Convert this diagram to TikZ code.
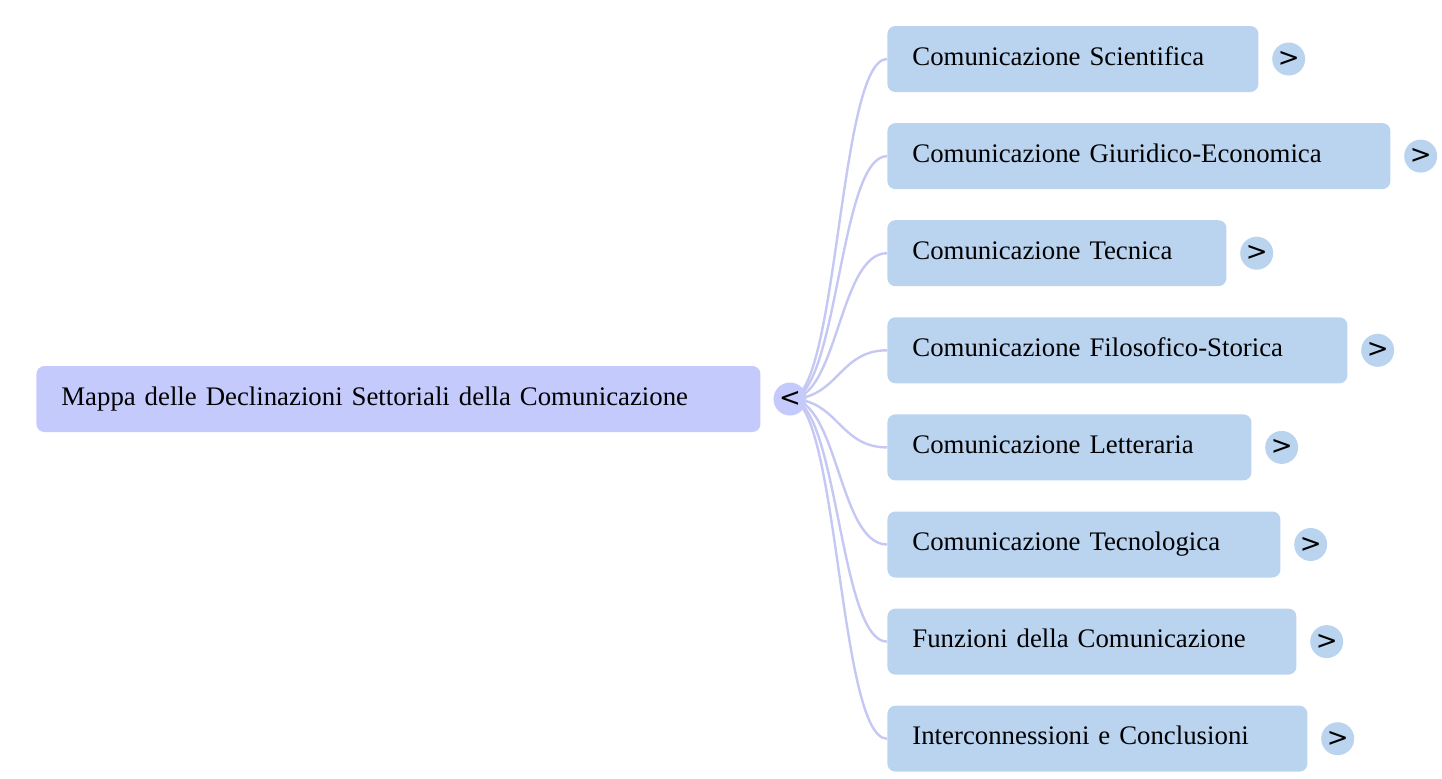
\documentclass[tikz,border=0pt]{standalone}
\usepackage{fontspec}
\setmainfont{Liberation Serif}
\newfontfamily\togglefont{DejaVu Sans}
\usetikzlibrary{positioning}

\definecolor{rootblue}{HTML}{C5CAFC}
\definecolor{leafblue}{HTML}{BAD4F0}
\definecolor{linkblue}{HTML}{C4C8F2}

\tikzset{
  box/.style={rounded corners=4pt, minimum height=33pt, inner xsep=12.5pt, text height=10pt, text depth=4pt, align=left, anchor=west, font=\fontsize{13.4}{16}\selectfont},
  toggle/.style={circle, inner sep=0pt, minimum size=16.5pt, font=\togglefont\fontsize{13}{13}\selectfont},
  link/.style={linkblue, line width=1.2pt},
}

\begin{document}
\begin{tikzpicture}[x=0.5pt, y=-0.5pt]
\useasboundingbox (0,0) rectangle (1442,778);
%
\node [box, fill=rootblue, text width=337pt] (root) at (36,399) {Mappa delle Declinazioni Settoriali della Comunicazione};
\coordinate (hub) at (790,399);
%
\foreach \name/\txt/\boxw [count=\i] in {
    sci/Comunicazione Scientifica/371,
    giu/Comunicazione Giuridico-Economica/503,
    tec/Comunicazione Tecnica/339,
    fil/Comunicazione Filosofico-Storica/460,
    let/Comunicazione Letteraria/364,
    tcl/Comunicazione Tecnologica/393,
    fun/Funzioni della Comunicazione/409,
    con/Interconnessioni e Conclusioni/420} {
  \pgfmathsetmacro\textw{\boxw*0.5-25}
  \node [box, fill=leafblue, text width=\textw pt] (\name) at (887, {59+97.1*(\i-1)}) {\txt};
  \draw [link] (hub) .. controls +(48,0) and +(-48,0) .. (\name.west);
  \node [toggle, fill=leafblue, right=6.5pt of \name] (\name-t) {>};
}
%
\node [toggle, fill=rootblue] (hub-t) at (hub) {<};
%%%%%%%%%%%%%%%%%%%%%%%%%%%%%%%
\end{tikzpicture}
\end{document}
